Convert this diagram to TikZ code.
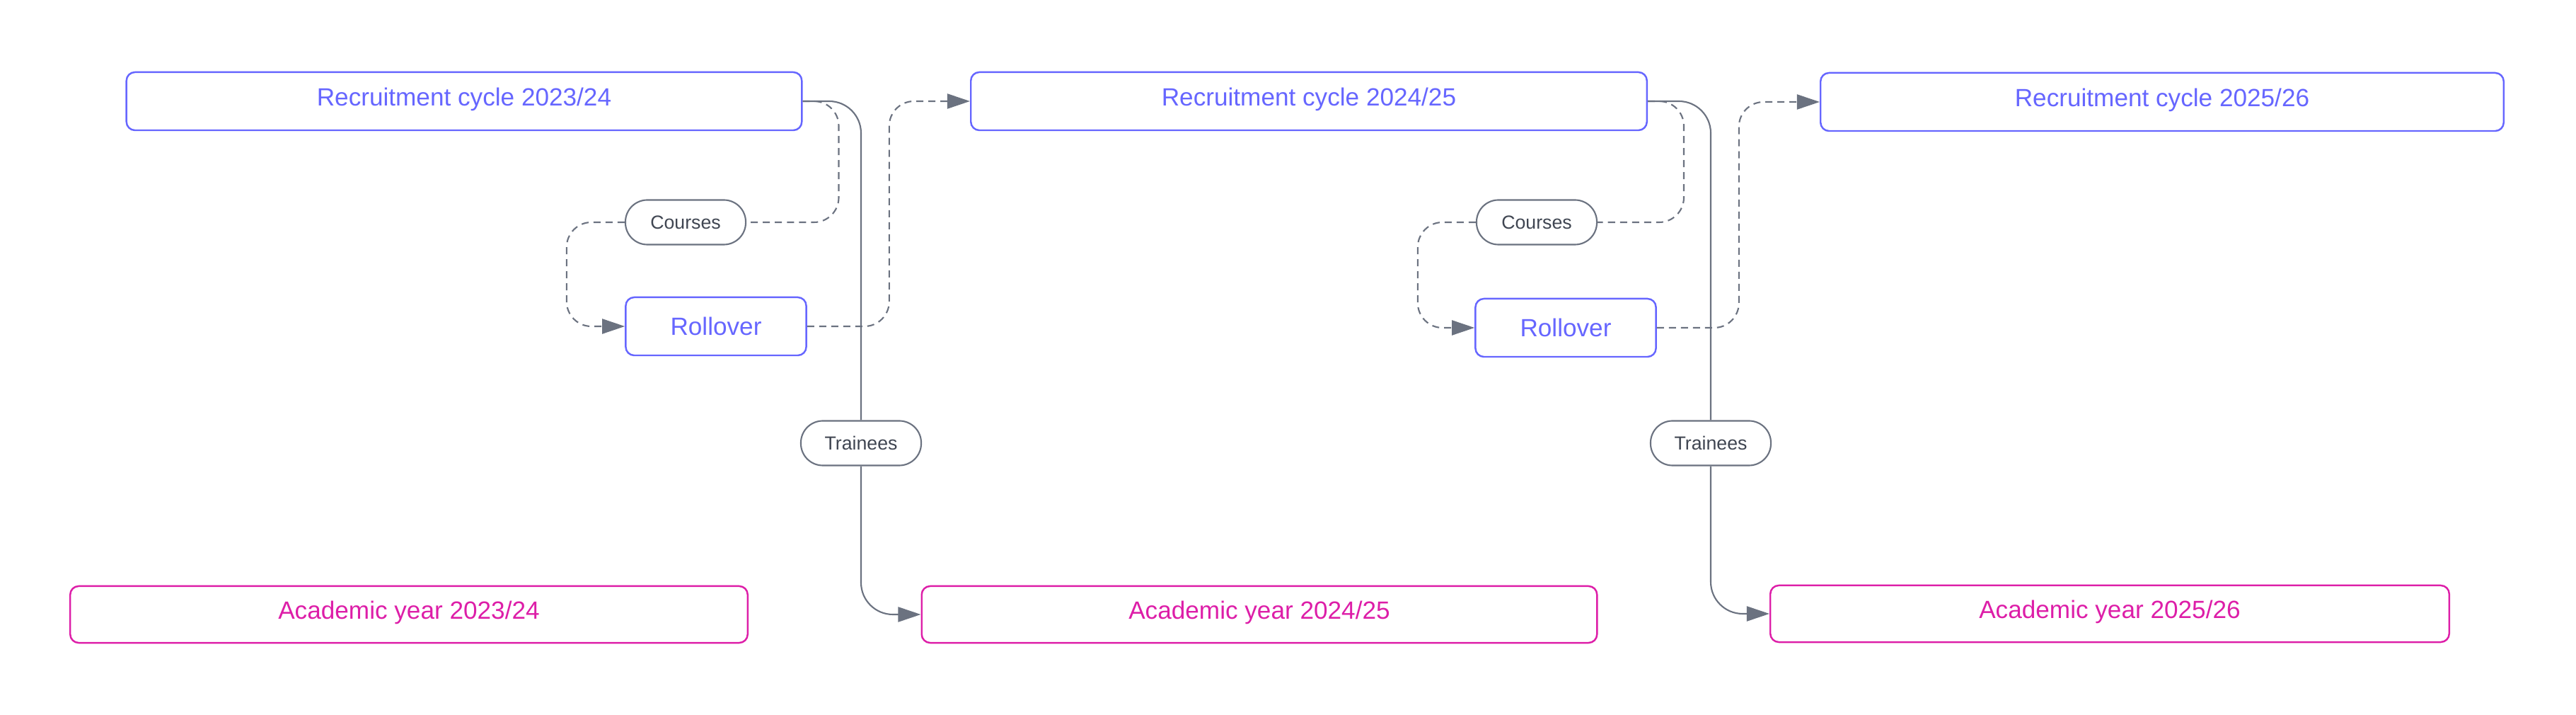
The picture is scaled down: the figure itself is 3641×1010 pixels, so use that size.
\documentclass[tikz,border=0pt]{standalone}
\usepackage{fontspec}
\setmainfont{Liberation Sans}
\usepackage{tikz}
\usetikzlibrary{positioning}
\usetikzlibrary{arrows.meta,shapes}
\usetikzlibrary{calc}
\definecolor{cyclecol}{RGB}{102,102,255}
\definecolor{yearcol}{RGB}{221,30,168}
\definecolor{linkcol}{RGB}{107,114,128}
\definecolor{tagtext}{RGB}{64,70,82}
\tikzstyle{cyclebox}=[rectangle,rounded corners=0.12cm,draw=cyclecol,text=cyclecol,line width=0.7pt,minimum height=0.82cm,inner sep=0pt,font=\fontsize{10}{12}\selectfont,text height=0.25cm,text depth=0.12cm]
\tikzstyle{rollbox}=[rectangle,rounded corners=0.12cm,draw=cyclecol,text=cyclecol,line width=0.7pt,minimum height=0.82cm,minimum width=2.55cm,inner sep=0pt,font=\fontsize{10}{12}\selectfont]
\tikzstyle{yearbox}=[rectangle,rounded corners=0.12cm,draw=yearcol,text=yearcol,line width=0.7pt,minimum height=0.80cm,inner sep=0pt,font=\fontsize{10}{12}\selectfont,text height=0.25cm,text depth=0.12cm]
\tikzstyle{tag}=[rectangle,rounded corners=0.31cm,draw=linkcol,fill=white,text=tagtext,line width=0.6pt,minimum width=1.70cm,minimum height=0.63cm,inner sep=0pt,font=\fontsize{7.6}{9}\selectfont]
\tikzstyle{link} = [draw=linkcol,line width=0.6pt,rounded corners=0.45cm]
\tikzstyle{dashlink} = [draw=linkcol,line width=0.6pt,rounded corners=0.35cm,dash pattern=on 0.1cm off 0.07cm]
\tikzstyle{arrowtip} = [-{Triangle[length=0.32cm,width=0.21cm]}]

\begin{document}
\begin{tikzpicture}[x=0.01cm, y=-0.01cm]
\useasboundingbox (0,0) rectangle (3641,1010);

    % Recruitment cycles on top
    \foreach \pos/\name/\bw/\ya/\yb in {{(656,143)/R1/9.54cm/23/24}, {(1850,143)/R2/9.55cm/24/25}, {(3056,144)/R3/9.65cm/25/26}}
        \node[cyclebox, minimum width=\bw] (\name) at \pos {Recruitment cycle 20\ya/\yb};

    % Academic years at the bottom
    \foreach \pos/\name/\bw/\ya/\yb in {{(578,868)/A1/9.57cm/23/24}, {(1780,868)/A2/9.54cm/24/25}, {(2982,867)/A3/9.59cm/25/26}}
        \node[yearbox, minimum width=\bw] (\name) at \pos {Academic year 20\ya/\yb};

    % Rollover boxes and the pills on the connectors
    \foreach \pos/\name in {{(1012,461)/Rol1}, {(2213,463)/Rol2}}
        \node[rollbox] (\name) at \pos {Rollover};
    \foreach \pos/\name/\label in {{(969,314)/C1/Courses}, {(2172,314)/C2/Courses}, {(1217,626)/T1/Trainees}, {(2418,626)/T2/Trainees}}
        \node[tag] (\name) at \pos {\label};

    % Connect cycles, rollovers and years
  \foreach \src/\crs/\rol/\trn/\nxt/\yr in {R1/C1/Rol1/T1/R2/A2, R2/C2/Rol2/T2/R3/A3}
  {
          \draw[dashlink] (\src.east) -- ++(51,0) |- (\crs.east);
          \draw[dashlink, arrowtip] (\crs.west) -- ++(-82,0) |- (\rol.west);
          \draw[dashlink, arrowtip] (\rol.east) -- ++(116,0) |- (\nxt.west);
          \draw[link] (\src.east) -| (\trn.north);
          \draw[link, arrowtip] (\trn.south) |- (\yr.west);
  }

\end{tikzpicture}
\end{document}
